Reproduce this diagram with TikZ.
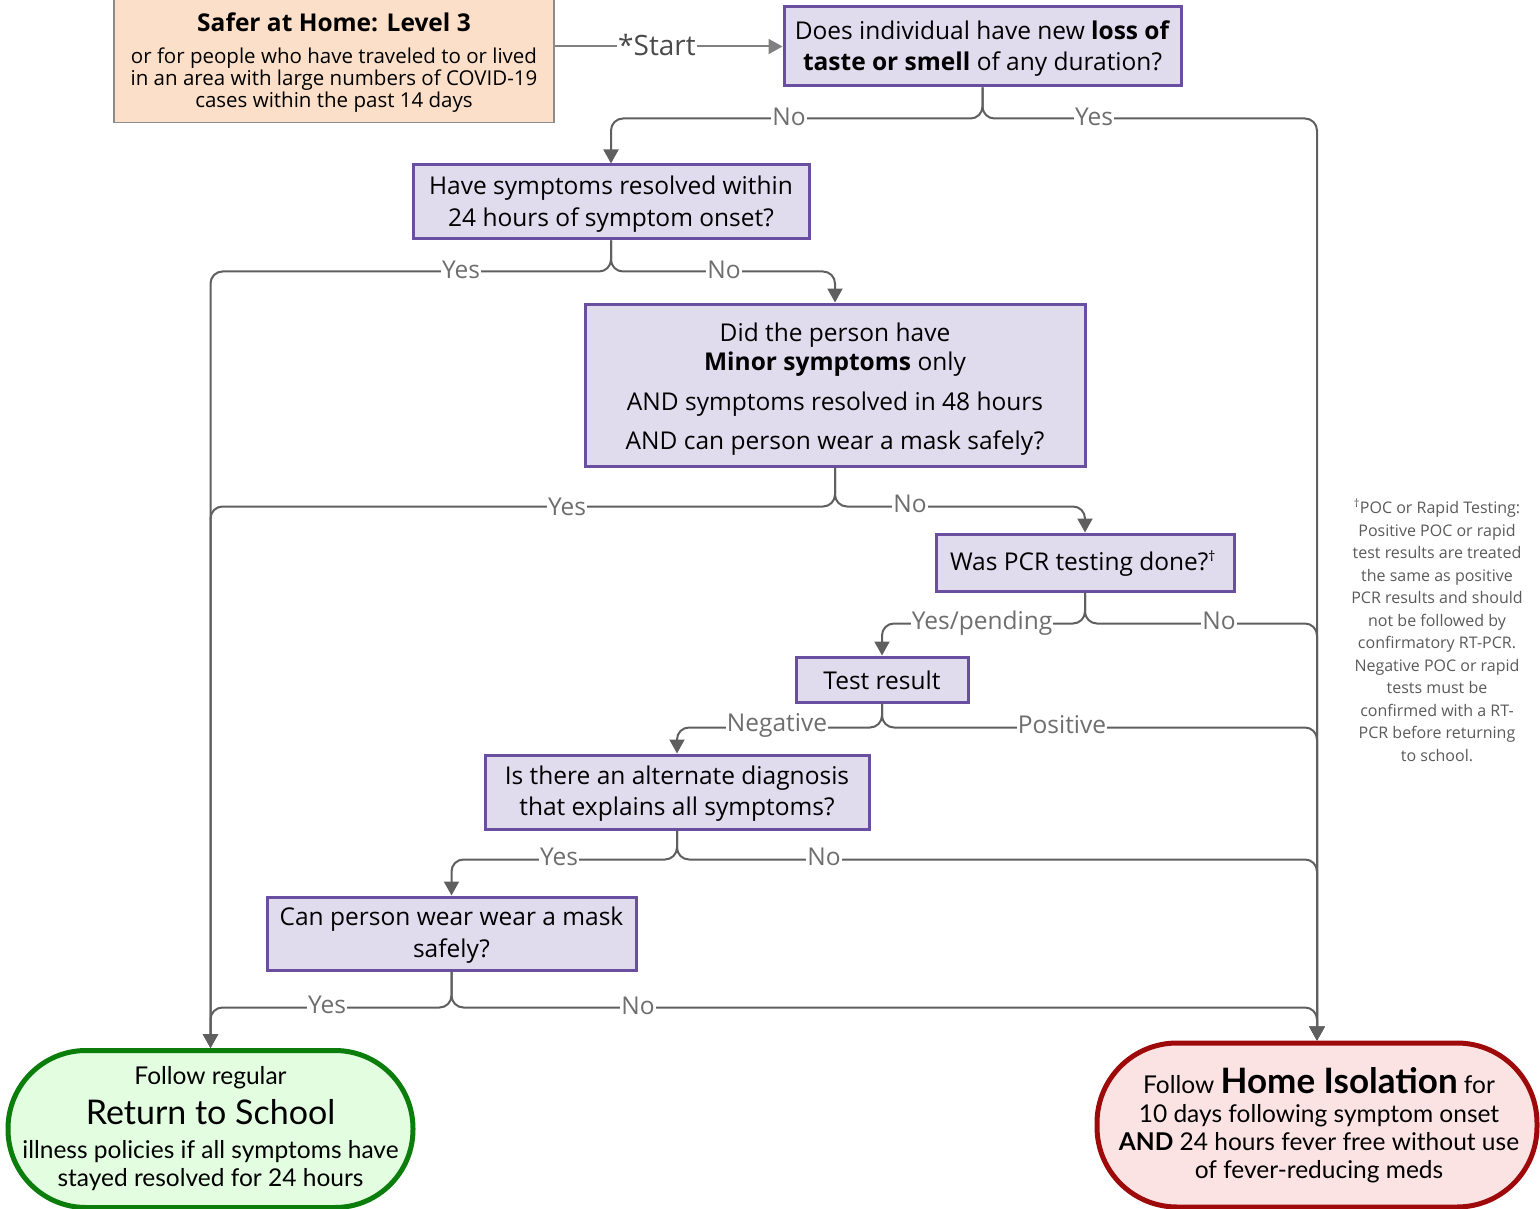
\documentclass[tikz,border=0pt]{standalone}
\usepackage{fontspec}
\setmainfont{Open Sans}
\newfontfamily\termfont{Lato}
\usetikzlibrary{arrows.meta}
\definecolor{qfill}{HTML}{E0DCEE}
\definecolor{qborder}{HTML}{6A4FA0}
\definecolor{ofill}{HTML}{FBDFC8}
\definecolor{oborder}{HTML}{8C8C8C}
\definecolor{gfill}{HTML}{E2FDE0}
\definecolor{gborder}{HTML}{0A7D0A}
\definecolor{rfill}{HTML}{FBE3E4}
\definecolor{rborder}{HTML}{9E0A0A}
\definecolor{conngray}{HTML}{5F5F5F}
\definecolor{labgray}{HTML}{6E6E6E}
\definecolor{notegray}{HTML}{5A5A5A}
\definecolor{startgray}{HTML}{4A4A4A}
\begin{document}
\begin{tikzpicture}[x=1pt,y=-1pt,
  qbox/.style={draw=qborder, fill=qfill, line width=3pt, align=center, inner sep=0pt,
    font=\fontsize{24.5}{31.5}\selectfont},
  qtext/.style={align=center, inner sep=0pt, font=\fontsize{24.5}{31.5}\selectfont},
  conn/.style={draw=conngray, line width=2pt, rounded corners=12pt,
    -{Triangle[width=15pt,length=14pt]}},
  lab/.style={fill=white, text=labgray, inner sep=1pt, font=\fontsize{24.5}{24.5}\selectfont},
  term/.style={line width=5pt, align=center, inner sep=0pt, font=\termfont\fontsize{24.5}{28}\selectfont}
]
\useasboundingbox (0,0) rectangle (1540,1209);

% nodes
\node[draw=oborder, fill=ofill, line width=1.2pt, minimum width=440pt, minimum height=126pt,
  inner sep=0pt, align=center] (start) at (334,59.5) {};
\node[font=\bfseries\fontsize{24.5}{26}\selectfont] (starttitle) at (334,22) {Safer at Home: Level 3};
\node[align=center, font=\fontsize{20.5}{22}\selectfont] (starttext) at (334,80)
  {or for people who have traveled to or lived\\in an area with large numbers of COVID-19\\cases within the past 14 days};

\node[qbox, minimum width=397pt, minimum height=79pt] (q1) at (982.5,46.5) {};
\node[qtext] (q1t) at (982.5,48.5)
  {Does individual have new \textbf{loss of}\\\textbf{taste or smell} of any duration?};
\node[qbox, minimum width=396pt, minimum height=74pt] (q2) at (611,202) {};
\node[qtext] (q2t) at (611,204)
  {Have symptoms resolved within\\24 hours of symptom onset?};
\node[qbox, minimum width=500pt, minimum height=162pt] (q3) at (835,385) {};
\node[qtext, font=\fontsize{24.5}{29}\selectfont] (q3t) at (835,389.5)
  {Did the person have\\\textbf{Minor symptoms} only\\[11pt]AND symptoms resolved in 48 hours\\[10pt]AND can person wear a mask safely?};
\node[qbox, minimum width=298pt, minimum height=57pt] (q4) at (1085,562.5) {};
\node[qtext] (q4t) at (1083,563.5) {Was PCR testing done?\textsuperscript{\fontsize{14}{14}\selectfont †}};
\node[qbox, minimum width=172pt, minimum height=45pt] (tr) at (882,679.5) {};
\node[qtext] (trt) at (882,680) {Test result};
\node[qbox, minimum width=384pt, minimum height=74pt] (q6) at (677,792) {};
\node[qtext] (q6t) at (677,793.5)
  {Is there an alternate diagnosis\\that explains all symptoms?};
\node[qbox, minimum width=369pt, minimum height=73pt] (q7) at (451.5,933.5) {};
\node[qtext] (q7t) at (451.5,935)
  {Can person wear wear a mask\\safely?};

\node[term, draw=gborder, fill=gfill, minimum width=405pt, minimum height=157pt,
  rounded corners=78pt] (green) at (210.5,1129) {};
\node[term] (greentext) at (210.5,1128.5)
  {Follow regular\\[9pt]{\fontsize{34}{34}\selectfont Return to School}\\[6pt]illness policies if all symptoms have\\stayed resolved for 24 hours};
\node[term, draw=rborder, fill=rfill, minimum width=440pt, minimum height=164pt,
  rounded corners=80pt] (red) at (1317,1125) {};
\node[term] (redtext) at (1319,1125)
  {Follow {\bfseries\fontsize{35}{35}\selectfont Home Isolation} for\\[1pt]10 days following symptom onset\\\textbf{AND} 24 hours fever free without use\\of fever-reducing meds};

\node[align=center, text=notegray, font=\fontsize{16}{22.5}\selectfont] (note) at (1437,630)
  {\textsuperscript{†}POC or Rapid Testing:\\Positive POC or rapid\\test results are treated\\the same as positive\\PCR results and should\\not be followed by\\confirmatory RT-PCR.\\Negative POC or rapid\\tests must be\\confirmed with a RT-\\PCR before returning\\to school.};

% connectors
\draw[conn, draw=gray] (start.east |- q1.west) -- (q1.west);
\draw[conn] (q1.south) -- ++(0,31) -| (q2.north);
\draw[conn] (q1.south) -- ++(0,31) -| (red.north);
\draw[conn] (q2.south) -- ++(0,31) -| (green.north);
\draw[conn] (q2.south) -- ++(0,31) -| (q3.north);
\draw[conn] (q3.south) -- ++(0,39) -| (green.north);
\draw[conn] (q3.south) -- ++(0,39) -| (q4.north);
\draw[conn] (q4.south) -- ++(0,31) -| (tr.north);
\draw[conn] (q4.south) -- ++(0,31) -| (red.north);
\draw[conn] (tr.south) -- ++(0,24) -| (q6.north);
\draw[conn] (tr.south) -- ++(0,24) -| (red.north);
\draw[conn] (q6.south) -- ++(0,29) -| (q7.north);
\draw[conn] (q6.south) -- ++(0,29) -| (red.north);
\draw[conn] (q7.south) -- ++(0,36) -| (green.north);
\draw[conn] (q7.south) -- ++(0,36) -| (red.north);

% labels
\node[lab, text=startgray, font=\fontsize{28}{28}\selectfont] (lstart) at (657,45) {*Start};
\node[lab] (l1) at (789,117) {No};
\node[lab] (l2) at (1094,117) {Yes};
\node[lab] (l3) at (461,270) {Yes};
\node[lab] (l4) at (724,270) {No};
\node[lab] (l5) at (567,507) {Yes};
\node[lab] (l6) at (910,504) {No};
\node[lab] (l7) at (982,623) {Yes/pending};
\node[lab] (l8) at (1219,621) {No};
\node[lab] (l9) at (777,725) {Negative};
\node[lab] (l10) at (1062,725) {Positive};
\node[lab] (l11) at (559,857) {Yes};
\node[lab] (l12) at (824,857) {No};
\node[lab] (l13) at (327,1005) {Yes};
\node[lab] (l14) at (638,1006) {No};
\end{tikzpicture}
\end{document}
